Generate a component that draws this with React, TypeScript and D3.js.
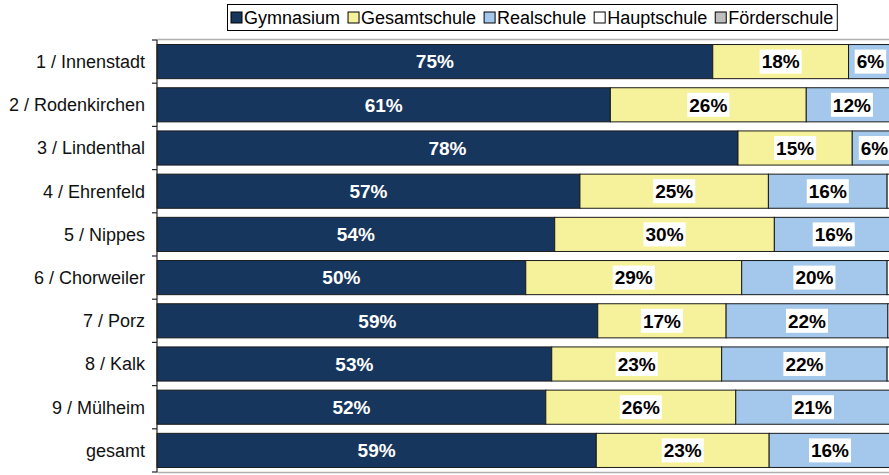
import React, { useRef, useEffect } from 'react';
import * as d3 from 'd3';

// Stadtbezirke (top to bottom)
const categories = [
    '1 / Innenstadt',
    '2 / Rodenkirchen',
    '3 / Lindenthal',
    '4 / Ehrenfeld',
    '5 / Nippes',
    '6 / Chorweiler',
    '7 / Porz',
    '8 / Kalk',
    '9 / Mülheim',
    'gesamt',
];

// shares in percent
const gymnasium = [74.9, 61.1, 78.3, 57.0, 53.6, 49.7, 59.4, 53.2, 52.4, 59.2];
const gesamtschule = [18.3, 26.4, 15.4, 25.4, 29.6, 29.1, 17.3, 22.9, 25.6, 23.3];
const realschule = [5.9, 12.3, 6.0, 16.0, 16.0, 19.6, 21.8, 22.3, 20.8, 16.4];
const hauptschule = [0.4, 0.1, 0.1, 0.9, 0.4, 0.9, 0.8, 0.9, 0.7, 0.6];
const foerderschule = [0.5, 0.1, 0.2, 0.7, 0.4, 0.7, 0.7, 0.7, 0.5, 0.5];

const seriesNames = ['Gymnasium', 'Gesamtschule', 'Realschule', 'Hauptschule', 'Förderschule'];
const seriesColors = ['#17365d', '#f6f29c', '#a3c8eb', '#ffffff', '#bfbfbf'];

const WIDTH = 889;
const HEIGHT = 475;
const FONT = '"Liberation Sans", Arial, sans-serif';

const App = () => {
    const svgRef = useRef<SVGSVGElement>(null);

    useEffect(() => {
        const svg = d3.select(svgRef.current);
        svg.selectAll('*').remove();

        const seriesValues = [gymnasium, gesamtschule, realschule, hauptschule, foerderschule];
        const rows = categories.map((c, i) => {
            const row: any = { category: c };
            seriesNames.forEach((s, j) => { row[s] = seriesValues[j][i]; });
            return row;
        });

        const stack = d3.stack().keys(seriesNames);
        const stacked = stack(rows);

        // plot area
        const left = 157, top = 40, bottom = 472;

        // the original chart runs past the right edge of the picture
        const x = d3.scaleLinear().domain([0, 100]).range([left, left + 742]);
        const y = d3.scaleBand().domain(categories).range([top, bottom]).paddingInner(0.21).paddingOuter(0.105);

        // grey plot border lines (top and bottom)
        svg.append('line')
            .attr('x1', left).attr('x2', WIDTH)
            .attr('y1', top - 0.5).attr('y2', top - 0.5)
            .attr('stroke', '#b0b0b0').attr('stroke-width', 1.5);
        svg.append('line')
            .attr('x1', left).attr('x2', WIDTH)
            .attr('y1', bottom + 0.5).attr('y2', bottom + 0.5)
            .attr('stroke', '#b0b0b0').attr('stroke-width', 1.5);

        // bars
        const groups = svg.selectAll('.series')
            .data(stacked)
            .enter().append('g')
            .attr('class', 'series')
            .attr('fill', (d, i) => seriesColors[i]);

        groups.selectAll('rect')
            .data(d => d)
            .enter().append('rect')
            .attr('x', d => x(d[0]))
            .attr('y', d => y(d.data.category as string)!)
            .attr('width', d => x(d[1]) - x(d[0]))
            .attr('height', y.bandwidth())
            .attr('stroke', '#1a1a1a')
            .attr('stroke-width', 1);

        // value labels (first three series only, the rest is cut off)
        stacked.slice(0, 3).forEach((s, si) => {
            s.forEach(d => {
                const cx = (x(d[0]) + x(d[1])) / 2;
                const cy = y(d.data.category as string)! + y.bandwidth() / 2;
                const label = `${Math.round(d[1] - d[0])}%`;
                const g = svg.append('g');
                const t = g.append('text')
                    .attr('x', cx)
                    .attr('y', cy)
                    .attr('dy', '0.36em')
                    .attr('text-anchor', 'middle')
                    .attr('font-family', FONT)
                    .attr('font-weight', 'bold')
                    .attr('font-size', 19)
                    .attr('fill', si === 0 ? '#ffffff' : '#000000')
                    .text(label);
                if (si > 0) {
                    const w = (t.node() as SVGTextElement).getComputedTextLength();
                    g.insert('rect', 'text')
                        .attr('x', cx - w / 2 - 2)
                        .attr('y', cy - 12)
                        .attr('width', w + 4)
                        .attr('height', 24)
                        .attr('fill', '#ffffff');
                }
            });
        });

        // category axis
        const axis = svg.append('g');
        axis.append('line')
            .attr('x1', left).attr('x2', left)
            .attr('y1', top).attr('y2', bottom)
            .attr('stroke', '#222').attr('stroke-width', 1.2);
        d3.range(categories.length + 1).forEach(i => {
            const ty = top + i * (bottom - top) / categories.length;
            axis.append('line')
                .attr('x1', left - 5).attr('x2', left)
                .attr('y1', ty).attr('y2', ty)
                .attr('stroke', '#222').attr('stroke-width', 1.2);
        });
        axis.selectAll('.cat')
            .data(categories)
            .enter().append('text')
            .attr('class', 'cat')
            .attr('x', left - 12)
            .attr('y', d => y(d)! + y.bandwidth() / 2)
            .attr('dy', '0.36em')
            .attr('text-anchor', 'end')
            .attr('font-family', FONT)
            .attr('font-size', 18)
            .attr('fill', '#111')
            .text(d => d);

        // legend
        const legend = svg.append('g');
        const legendBox = legend.append('rect')
            .attr('y', 4.5)
            .attr('height', 26)
            .attr('fill', '#ffffff')
            .attr('stroke', '#000')
            .attr('stroke-width', 1);
        let lx = 231;
        seriesNames.forEach((name, i) => {
            legend.append('rect')
                .attr('x', lx).attr('y', 12)
                .attr('width', 11).attr('height', 11)
                .attr('fill', seriesColors[i])
                .attr('stroke', '#000').attr('stroke-width', 1);
            const t = legend.append('text')
                .attr('x', lx + 13)
                .attr('y', 17.5)
                .attr('dy', '0.36em')
                .attr('font-family', FONT)
                .attr('font-size', 18)
                .attr('fill', '#000')
                .text(name);
            lx += 13 + (t.node() as SVGTextElement).getComputedTextLength() + 8;
        });
        legendBox.attr('x', 227.5).attr('width', lx - 227.5 - 4);
    }, []);

    return (
        <svg
            ref={svgRef}
            width={WIDTH}
            height={HEIGHT}
            style={{ position: 'absolute', left: 0, top: 0, background: '#fff' }}
        />
    );
};

export default App;
